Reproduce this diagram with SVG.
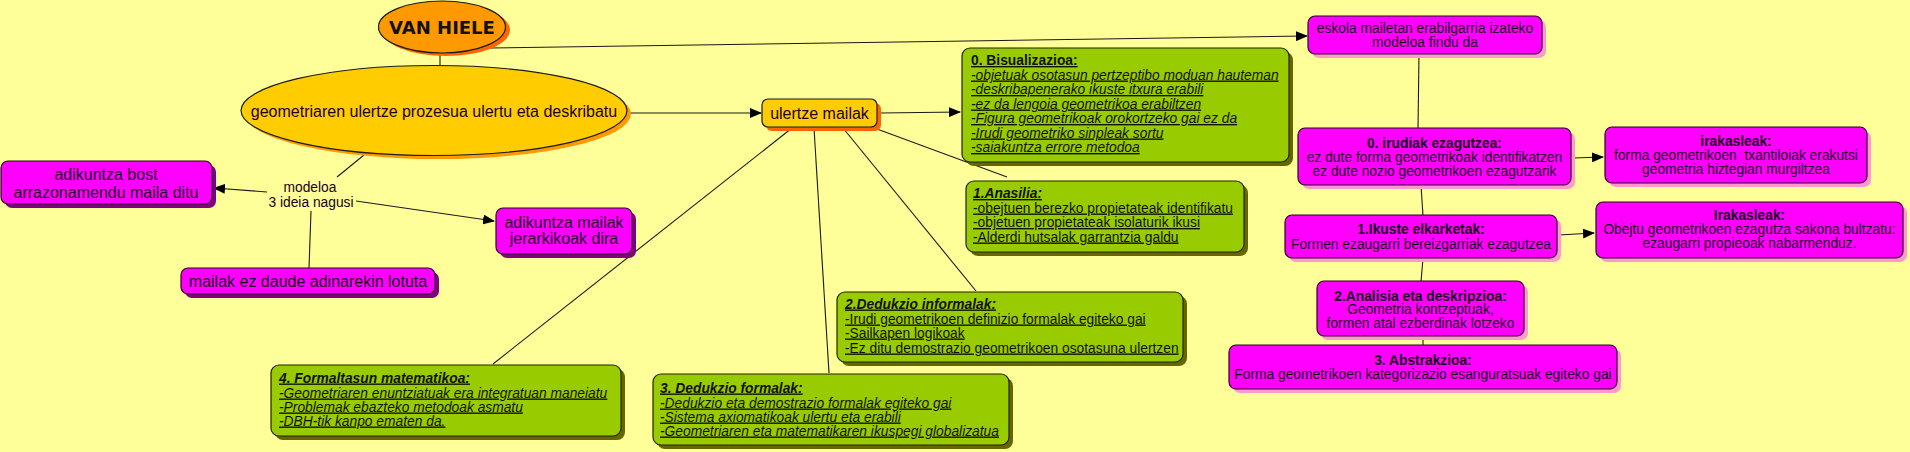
<svg xmlns="http://www.w3.org/2000/svg" width="1910" height="452" viewBox="0 0 1910 452">
<defs>
<marker id="arr" markerWidth="12" markerHeight="10" refX="11" refY="5" orient="auto" markerUnits="userSpaceOnUse">
<path d="M0,0 L12,5 L0,10 Z" fill="#000"/>
</marker>
<style>
text{font-family:"Liberation Sans",Arial,sans-serif;fill:#1a001a}
.c{stroke:#1a1a1a;stroke-width:1.1;fill:none}
.ca{stroke:#1a1a1a;stroke-width:1.1;fill:none;marker-end:url(#arr)}
.mg{fill:#FF00FF;stroke:#2a002a;stroke-width:1.2}
.shp{fill:#FF99CC}
.shd{fill:#800080}
.gr{fill:#99CC00;stroke:#222200;stroke-width:1.2}
.shg{fill:#666600}
.m{font-size:13.8px;text-anchor:middle}
.mb{font-size:13.8px;text-anchor:middle;font-weight:bold}
.l{font-size:16px;text-anchor:middle}
.g{font-size:13.8px;text-decoration:underline;fill:#111100}
.gi{font-size:13.8px;text-decoration:underline;font-style:italic;fill:#111100}
.gh{font-size:13.8px;text-decoration:underline;font-weight:bold;fill:#111100}
.ghi{font-size:13.8px;text-decoration:underline;font-weight:bold;font-style:italic;fill:#111100}
</style>
</defs>
<rect x="0" y="0" width="1910" height="452" fill="#FFFF99"/>

<g id="connectors">
<line class="c" x1="440" y1="50" x2="440" y2="66"/>
<line class="ca" x1="490" y1="48" x2="1307" y2="36"/>
<line class="ca" x1="630" y1="113" x2="761" y2="113"/>
<line class="ca" x1="881" y1="113" x2="960" y2="112"/>
<line class="c" x1="877" y1="129" x2="1007" y2="177"/>
<line class="c" x1="843" y1="128" x2="976" y2="291"/>
<line class="c" x1="814" y1="128" x2="829" y2="373"/>
<line class="c" x1="792" y1="128" x2="493" y2="364"/>
<line class="c" x1="364" y1="155" x2="337" y2="177"/>
<line class="ca" x1="267" y1="192" x2="214" y2="188"/>
<line class="ca" x1="356" y1="201" x2="494" y2="221"/>
<line class="c" x1="311" y1="211" x2="309" y2="268"/>
<line class="c" x1="1419" y1="54" x2="1418" y2="129"/>
<line class="ca" x1="1573" y1="158" x2="1603" y2="157"/>
<line class="c" x1="1421" y1="185" x2="1423" y2="216"/>
<line class="ca" x1="1559" y1="235" x2="1594" y2="233"/>
<line class="c" x1="1423" y1="258" x2="1421" y2="282"/>
<line class="c" x1="1423" y1="336" x2="1423" y2="346"/>
</g>

<g id="vanhiele">
<ellipse cx="446" cy="30" rx="64" ry="26" fill="#FF6600"/>
<ellipse cx="442" cy="27" rx="63.5" ry="26" fill="#FF9900" stroke="#1a1a1a" stroke-width="1.2"/>
<text x="442" y="33.5" text-anchor="middle" style="font-family:'DejaVu Sans',Verdana,sans-serif;font-size:18px;font-weight:bold;fill:#111">VAN HIELE</text>
</g>

<g id="geometriaren">
<ellipse cx="438" cy="114" rx="193" ry="45" fill="#FF9900"/>
<ellipse cx="434" cy="110.5" rx="193" ry="45" fill="#FFCC00" stroke="#1a1a1a" stroke-width="1.2"/>
<text class="l" x="434" y="116.5">geometriaren ulertze prozesua ulertu eta deskribatu</text>
</g>

<g id="ulertze">
<rect x="766" y="103" width="115" height="28" rx="6" fill="#FF6600"/>
<rect x="762" y="99" width="115" height="28" rx="6" fill="#FFCC00" stroke="#1a1a1a" stroke-width="1.2"/>
<text class="l" x="819.5" y="118.5">ulertze mailak</text>
</g>

<g id="bisualizazioa">
<rect x="966" y="52" width="327" height="114" rx="8" class="shg"/>
<rect x="962" y="48" width="327" height="114" rx="8" class="gr"/>
<text class="gh" x="971" y="65">0. Bisualizazioa:</text>
<text class="gi" x="971" y="79.5">-objetuak osotasun pertzeptibo moduan hauteman</text>
<text class="gi" x="971" y="94">-deskribapenerako ikuste itxura erabili</text>
<text class="gi" x="971" y="108.5">-ez da lengoia geometrikoa erabiltzen</text>
<text class="gi" x="971" y="123">-Figura geometrikoak orokortzeko gai ez da</text>
<text class="gi" x="971" y="137.5">-Irudi geometriko sinpleak sortu</text>
<text class="gi" x="971" y="152">-saiakuntza errore metodoa</text>
</g>

<g id="anasilia">
<rect x="970" y="185" width="278" height="71" rx="8" class="shg"/>
<rect x="966" y="181" width="278" height="71" rx="8" class="gr"/>
<text class="ghi" x="973" y="198">1.Anasilia:</text>
<text class="g" x="973" y="212.5">-obejtuen berezko propietateak identifikatu</text>
<text class="g" x="973" y="227">-objetuen propietateak isolaturik ikusi</text>
<text class="g" x="973" y="241.5">-Alderdi hutsalak garrantzia galdu</text>
</g>

<g id="dedukzio-informalak">
<rect x="841" y="296" width="346" height="70" rx="8" class="shg"/>
<rect x="837" y="292" width="346" height="70" rx="8" class="gr"/>
<text class="ghi" x="845" y="308.5">2.Dedukzio informalak:</text>
<text class="g" x="845" y="323.5">-Irudi geometrikoen definizio formalak egiteko gai</text>
<text class="g" x="845" y="337.5">-Sailkapen logikoak</text>
<text class="g" x="845" y="352.5">-Ez ditu demostrazio geometrikoen osotasuna ulertzen</text>
</g>

<g id="dedukzio-formalak">
<rect x="657" y="378" width="356" height="71" rx="8" class="shg"/>
<rect x="653" y="374" width="356" height="71" rx="8" class="gr"/>
<text class="ghi" x="660" y="392.5">3. Dedukzio formalak:</text>
<text class="gi" x="660" y="407.5">-Dedukzio eta demostrazio formalak egiteko gai</text>
<text class="gi" x="660" y="421.5">-Sistema axiomatikoak ulertu eta erabili</text>
<text class="gi" x="660" y="435.5">-Geometriaren eta matematikaren ikuspegi globalizatua</text>
</g>

<g id="formaltasun">
<rect x="275" y="369" width="350" height="71" rx="8" class="shg"/>
<rect x="271" y="365" width="350" height="71" rx="8" class="gr"/>
<text class="ghi" x="279" y="382.5">4. Formaltasun matematikoa:</text>
<text class="gi" x="279" y="397.5">-Geometriaren enuntziatuak era integratuan maneiatu</text>
<text class="gi" x="279" y="411.5">-Problemak ebazteko metodoak asmatu</text>
<text class="gi" x="279" y="425.5">-DBH-tik kanpo ematen da.</text>
</g>

<g id="modeloa">
<text class="m" x="310" y="191.5">modeloa</text>
<text class="m" x="311" y="206.5">3 ideia nagusi</text>
</g>

<g id="adikuntza-bost">
<rect x="5" y="165" width="211" height="43" rx="7" class="shd"/>
<rect x="1" y="161" width="211" height="43" rx="7" class="mg"/>
<text class="l" x="106" y="179.5">adikuntza bost</text>
<text class="l" x="106" y="197.5">arrazonamendu maila ditu</text>
</g>

<g id="adikuntza-mailak">
<rect x="500" y="212" width="136" height="46" rx="7" class="shd"/>
<rect x="496" y="208" width="136" height="46" rx="7" class="mg"/>
<text class="l" x="564" y="227.5">adikuntza mailak</text>
<text class="l" x="564" y="243.5">jerarkikoak dira</text>
</g>

<g id="mailak-ez-daude">
<rect x="185" y="272" width="254" height="26" rx="7" class="shd"/>
<rect x="181" y="268" width="254" height="26" rx="7" class="mg"/>
<text class="l" x="308" y="286.5">mailak ez daude adinarekin lotuta</text>
</g>

<g id="eskola">
<rect x="1312" y="20" width="234" height="38" rx="7" class="shp"/>
<rect x="1308" y="16" width="234" height="38" rx="7" class="mg"/>
<text class="m" x="1425" y="32.5">eskola mailetan erabilgarria izateko</text>
<text class="m" x="1425" y="46.5">modeloa findu da</text>
</g>

<g id="irudiak">
<rect x="1302" y="132" width="273" height="57" rx="7" class="shp"/>
<rect x="1298" y="128" width="273" height="57" rx="7" class="mg"/>
<text class="mb" x="1434.5" y="147.5">0. irudiak ezagutzea:</text>
<text class="m" x="1434.5" y="161.5">ez dute forma geometrikoak identifikatzen</text>
<text class="m" x="1434.5" y="175.5">ez dute nozio geometrikoen ezagutzarik</text>
</g>

<g id="irakasleak0">
<rect x="1609" y="131" width="262" height="56" rx="7" class="shp"/>
<rect x="1605" y="127" width="262" height="56" rx="7" class="mg"/>
<text class="mb" x="1736" y="145.5">irakasleak:</text>
<text class="m" x="1736" y="159.5" xml:space="preserve">forma geometrikoen  txantiloiak erakutsi</text>
<text class="m" x="1736" y="173.5">geometria hiztegian murgiltzea</text>
</g>

<g id="ikuste">
<rect x="1289" y="219" width="272" height="43" rx="7" class="shp"/>
<rect x="1285" y="215" width="272" height="43" rx="7" class="mg"/>
<text class="mb" x="1421" y="233.5">1.Ikuste elkarketak:</text>
<text class="m" x="1421" y="248.5">Formen ezaugarri bereizgarriak ezagutzea</text>
</g>

<g id="irakasleak1">
<rect x="1600" y="206" width="307" height="56" rx="7" class="shp"/>
<rect x="1596" y="202" width="307" height="56" rx="7" class="mg"/>
<text class="mb" x="1749.5" y="219.5">Irakasleak:</text>
<text class="m" x="1749.5" y="233.5">Obejtu geometrikoen ezagutza sakona bultzatu:</text>
<text class="m" x="1749.5" y="247.5">ezaugarri propieoak nabarmenduz.</text>
</g>

<g id="analisia">
<rect x="1321" y="285" width="207" height="55" rx="7" class="shp"/>
<rect x="1317" y="281" width="207" height="55" rx="7" class="mg"/>
<text class="mb" x="1420.5" y="300.5">2.Analisia eta deskripzioa:</text>
<text class="m" x="1420.5" y="313.5">Geometria kontzeptuak,</text>
<text class="m" x="1420.5" y="327.5">formen atal ezberdinak lotzeko</text>
</g>

<g id="abstrakzioa">
<rect x="1233" y="349" width="388" height="44" rx="7" class="shp"/>
<rect x="1229" y="345" width="388" height="44" rx="7" class="mg"/>
<text class="mb" x="1423" y="364.5">3. Abstrakzioa:</text>
<text class="m" x="1423" y="378.5">Forma geometrikoen kategorizazio esanguratsuak egiteko gai</text>
</g>
</svg>
